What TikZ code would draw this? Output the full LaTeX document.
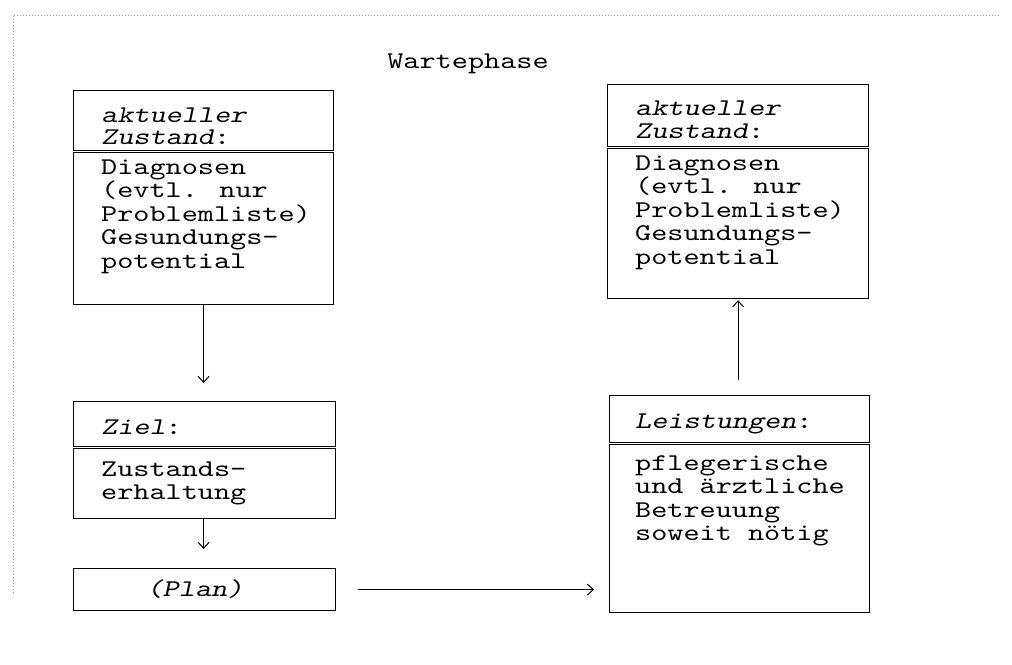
\documentclass[tikz,border=0pt]{standalone}
\usepackage{fontspec}
\newfontfamily\cour{lmmono10-regular.otf}[FakeStretch=1.28, ItalicFont=lmmonoslant10-regular.otf]
\usetikzlibrary{arrows.meta}
\tikzset{
  box/.style={draw, line width=1.2pt, anchor=north west, inner sep=0pt},
  divider/.style={line width=0.9pt, double, double distance=1.8pt},
  txt/.style={anchor=base west, inner sep=0pt, font=\cour\fontsize{24}{24}\selectfont},
  itxt/.style={txt, font=\cour\itshape\fontsize{24}{24}\selectfont},
  arr/.style={line width=1pt, -{Straight Barb[length=6pt,width=11pt]}},
  frame/.style={gray!80, line width=1pt, dash pattern=on 1.2pt off 1.8pt}
}
\begin{document}
\begin{tikzpicture}[x=1pt, y=-1pt]
\useasboundingbox (0,0) rectangle (1012,664);
% dotted frame
\coordinate (fl) at (13,593);
\coordinate (fc) at (13,15);
\coordinate (fr) at (1000,15);
\draw[frame] (fl) -- (fc) -- (fr);

% title
\node[txt, anchor=base] (title) at (468,68) {Wartephase};

% left top box
\node[box, minimum width=260pt, minimum height=214pt] (zl) at (73,90) {};
\draw[divider] (zl.west |- 0,151.5) -- (zl.east |- 0,151.5);
\node[itxt] (zlh1) at (101,122) {aktueller};
\node[itxt] (zlh2) at (101,144) {Zustand\upshape:};
\node[txt] (zlb1) at (101,174) {Diagnosen};
\node[txt] (zlb2) at (101,197.5) {(evtl. nur};
\node[txt] (zlb3) at (101,221) {Problemliste)};
\node[txt] (zlb4) at (101,244.5) {Gesundungs-};
\node[txt] (zlb5) at (101,268) {potential};

% right top box
\node[box, minimum width=261pt, minimum height=214pt] (zr) at (607,84) {};
\draw[divider] (zr.west |- 0,147.5) -- (zr.east |- 0,147.5);
\node[itxt] (zrh1) at (635,115) {aktueller};
\node[itxt] (zrh2) at (635,138) {Zustand\upshape:};
\node[txt] (zrb1) at (635,170) {Diagnosen};
\node[txt] (zrb2) at (635,193.5) {(evtl. nur};
\node[txt] (zrb3) at (635,217) {Problemliste)};
\node[txt] (zrb4) at (635,240.5) {Gesundungs-};
\node[txt] (zrb5) at (635,264) {potential};

% Ziel box
\node[box, minimum width=262pt, minimum height=117pt] (ziel) at (73,401) {};
\draw[divider] (ziel.west |- 0,447.5) -- (ziel.east |- 0,447.5);
\node[itxt] (zielh) at (101,434) {Ziel\upshape:};
\node[txt] (zielb1) at (101,476) {Zustands-};
\node[txt] (zielb2) at (101,499.5) {erhaltung};

% Plan box
\node[box, minimum width=262pt, minimum height=42pt] (plan) at (73,568) {};
\node[itxt, anchor=base] (plant) at (195,596) {(Plan)};

% Leistungen box
\node[box, minimum width=260pt, minimum height=217pt] (leis) at (609,395) {};
\draw[divider] (leis.west |- 0,443.5) -- (leis.east |- 0,443.5);
\node[itxt] (leish) at (635,428) {Leistungen\upshape:};
\node[txt] (leisb1) at (635,470) {pflegerische};
\node[txt] (leisb2) at (635,493.5) {und ärztliche};
\node[txt] (leisb3) at (635,517) {Betreuung};
\node[txt] (leisb4) at (635,540.5) {soweit nötig};

% connectors
\draw[arr, shorten >=18pt] (zl.south) -- (zl.south |- ziel.north);
\draw[arr, shorten >=19pt] (ziel.south -| zl.south) -- (zl.south |- plan.north);
\draw[arr, shorten <=22pt, shorten >=15pt] (plan.east) -- (plan.east -| leis.west);
\draw[arr, shorten <=15pt, shorten >=1pt] (zr.south |- leis.north) -- (zr.south);
\end{tikzpicture}
\end{document}
